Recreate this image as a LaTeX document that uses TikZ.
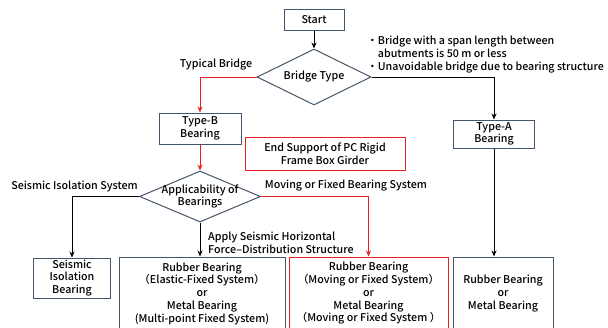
\documentclass[tikz,border=0pt]{standalone}
\usepackage{fontspec}
\setmainfont{Noto Sans CJK JP}[BoldFont={Noto Sans CJK JP Medium}]
\usetikzlibrary{shapes.geometric,arrows.meta}

\definecolor{framecol}{RGB}{68,84,106}
\definecolor{redline}{RGB}{232,32,36}

\tikzstyle{box} = [draw=framecol, line width=1pt, inner sep=0pt, align=center]
\tikzstyle{redbox} = [box, draw=redline]
\tikzstyle{decision} = [diamond, aspect=2, draw=framecol, line width=1pt, inner sep=0pt]
\tikzstyle{note} = [inner sep=0pt, align=center]
\tikzstyle{flow} = [line width=0.9pt, -{Stealth[length=6pt,width=5pt]}]
\tikzstyle{redflow} = [flow, draw=redline]

\begin{document}
\begin{tikzpicture}[x=1pt, y=-1pt, font=\fontsize{10.7}{12.75}\selectfont\bfseries]
\useasboundingbox (0,0) rectangle (608,327);

\node[box, minimum width=60pt, minimum height=21pt] (start) at (314,19.5) {Start};
\node[decision, minimum width=114pt, minimum height=56pt] (btype) at (314,77) {Bridge Type};
\node[box, minimum width=82pt, minimum height=31pt] (typeb) at (200,128.5) {Type-B\\Bearing};
\node[redbox, minimum width=160pt, minimum height=33pt] (endsup) at (325,153.5) {End Support of PC Rigid\\Frame Box Girder};
\node[box, minimum width=81pt, minimum height=28pt] (typea) at (494,134) {Type-A\\Bearing};
\node[decision, minimum width=121pt, minimum height=51pt,
	label={[note]center:Applicability of\\Bearings}] (apply) at (200,196.5) {};
\node[box, minimum width=77pt, minimum height=40pt] (seis) at (72,278) {Seismic\\Isolation\\Bearing};
\node[box, minimum width=166pt, minimum height=73pt] (rubmid) at (202,293.5)
	{Rubber Bearing\\（Elastic-Fixed System）\\or\\Metal Bearing\\(Multi-point Fixed System)};
\node[redbox, minimum width=159pt, minimum height=73pt] (rubred) at (368.5,293.5)
	{Rubber Bearing\\（Moving or Fixed System）\\or\\Metal Bearing\\（Moving or Fixed System ）};
\node[box, minimum width=100pt, minimum height=73pt] (rubright) at (503,293.5)
	{Rubber Bearing\\or\\Metal Bearing};

\node[note] (typical) at (216,65) {Typical Bridge};
\node[note, align=left, anchor=west] (cond) at (367,54.5)
	{・Bridge with a span length between\\\hphantom{・}abutments is 50 m or less\\・Unavoidable bridge due to bearing structure};
\node[note] (isol) at (74.5,186) {Seismic Isolation System};
\node[note] (movfix) at (346,186) {Moving or Fixed Bearing System};
\node[note, align=left, anchor=west] (horiz) at (208,242.5)
	{Apply Seismic Horizontal\\Force–Distribution Structure};

\draw[flow] (start) -- (btype);
\draw[redflow] (btype.west) -| (typeb);
\draw[flow] (btype.east) -| (typea);
\draw[redflow] (typeb) -- (apply);
\draw[flow] (apply.west) -| (seis);
\draw[flow] (apply.south) -- (apply.south |- rubmid.north);
\draw[redflow] (apply.east) -| (rubred);
\draw[flow] (typea.south) -- (typea.south |- rubright.north);
\end{tikzpicture}
\end{document}
